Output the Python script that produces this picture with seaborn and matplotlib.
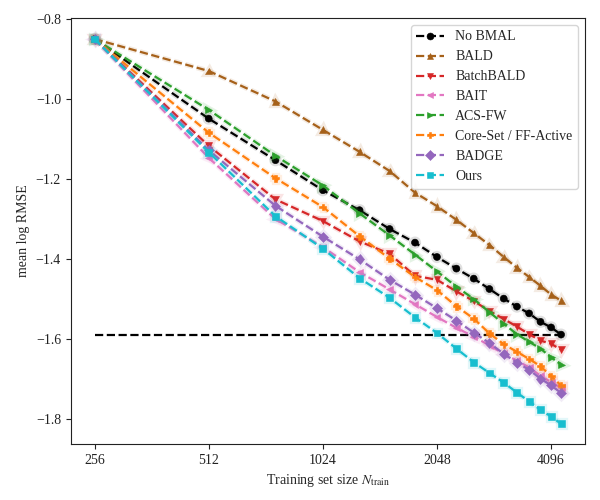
import numpy as np
import pandas as pd
import matplotlib
matplotlib.use("Agg")
import matplotlib.pyplot as plt
import matplotlib.patheffects as pe
from matplotlib.ticker import FixedLocator, FixedFormatter, NullLocator
import seaborn as sns

# ---------------- data ----------------
n_train = [256, 512, 768, 1024, 1280, 1536, 1792, 2048, 2304, 2560,
           2816, 3072, 3328, 3584, 3840, 4096, 4352]

no_bmal = [-0.85, -1.049, -1.153, -1.228, -1.278, -1.325, -1.359, -1.395, -1.424,
           -1.449, -1.475, -1.499, -1.519, -1.536, -1.557, -1.571, -1.589]
bald = [-0.85, -0.93, -1.006, -1.077, -1.132, -1.18, -1.234, -1.268, -1.302,
        -1.335, -1.365, -1.395, -1.422, -1.445, -1.467, -1.489, -1.504]
batchbald = [-0.85, -1.117, -1.251, -1.305, -1.356, -1.387, -1.442, -1.452, -1.481,
             -1.505, -1.53, -1.55, -1.569, -1.588, -1.604, -1.612, -1.627]
bait = [-0.85, -1.147, -1.30, -1.37, -1.433, -1.476, -1.513, -1.545, -1.572,
        -1.594, -1.616, -1.637, -1.654, -1.671, -1.692, -1.708, -1.722]
acs_fw = [-0.85, -1.027, -1.142, -1.216, -1.286, -1.341, -1.389, -1.431, -1.469,
          -1.50, -1.533, -1.562, -1.588, -1.607, -1.624, -1.646, -1.664]
coreset = [-0.85, -1.084, -1.198, -1.27, -1.343, -1.399, -1.445, -1.478, -1.518,
           -1.549, -1.586, -1.613, -1.632, -1.65, -1.668, -1.693, -1.716]
badge = [-0.85, -1.128, -1.267, -1.344, -1.401, -1.452, -1.489, -1.523, -1.554,
         -1.584, -1.61, -1.637, -1.659, -1.677, -1.699, -1.716, -1.735]
ours = [-0.85, -1.133, -1.293, -1.374, -1.448, -1.497, -1.546, -1.585, -1.624,
        -1.658, -1.685, -1.709, -1.734, -1.756, -1.777, -1.794, -1.812]

method_names = ["No BMAL", "BALD", "BatchBALD", "BAIT", "ACS-FW",
                "Core-Set / FF-Active", "BADGE", "Ours"]
method_values = [no_bmal, bald, batchbald, bait, acs_fw, coreset, badge, ours]
method_colors = ["#000000", "#a6611a", "#d62728", "#e377c2", "#2ca02c",
                 "#ff7f0e", "#9467bd", "#17becf"]
method_markers = ["o", "^", "v", "<", ">", "P", "D", "s"]

x_ticks = [256, 512, 1024, 2048, 4096]
x_tick_labels = ["256", "512", "1024", "2048", "4096"]
y_ticks = [-0.8, -1.0, -1.2, -1.4, -1.6, -1.8]

# ---------------- style ----------------
sns.set_style("ticks")
plt.rcParams["font.family"] = ["Liberation Serif", "DejaVu Serif"]
plt.rcParams["mathtext.fontset"] = "stix"
plt.rcParams["font.size"] = 10
plt.rcParams["axes.edgecolor"] = "#222222"
plt.rcParams["xtick.color"] = "#222222"
plt.rcParams["ytick.color"] = "#222222"

fig = plt.figure(figsize=(6, 5), dpi=100)
ax = fig.add_axes([0.118, 0.112, 0.857, 0.852])

# reference line at final No BMAL value
ref_df = pd.DataFrame({"x": [n_train[0], n_train[-1]], "y": [no_bmal[-1], no_bmal[-1]]})
sns.lineplot(data=ref_df, x="x", y="y", ax=ax, color="black", linestyle="--",
             linewidth=1.6, label="_nolegend_")

for name, vals, col, mk in zip(method_names, method_values, method_colors, method_markers):
    df = pd.DataFrame({"x": n_train, "y": vals})
    sns.lineplot(data=df, x="x", y="y", ax=ax, color=col, marker=mk,
                 markersize=5, markeredgecolor=col, markeredgewidth=0.4,
                 linestyle="--", linewidth=1.6, label=name,
                 path_effects=[pe.Stroke(linewidth=3.8, foreground=col, alpha=0.12),
                               pe.Normal()])

ax.set_xscale("log", base=2)
ax.xaxis.set_major_locator(FixedLocator(x_ticks))
ax.xaxis.set_major_formatter(FixedFormatter(x_tick_labels))
ax.xaxis.set_minor_locator(NullLocator())
ax.set_xlim(221.6, 5032)
ax.set_yticks(y_ticks)
ax.set_ylim(-1.8625, -0.7975)

ax.set_xlabel(r"Training set size $N_{\mathrm{train}}$")
ax.set_ylabel("mean log RMSE")

leg = ax.legend(loc="upper right", frameon=True, fontsize=10)
for h in leg.legend_handles:
    h.set_path_effects([])

fig.savefig("out.png", dpi=100)
